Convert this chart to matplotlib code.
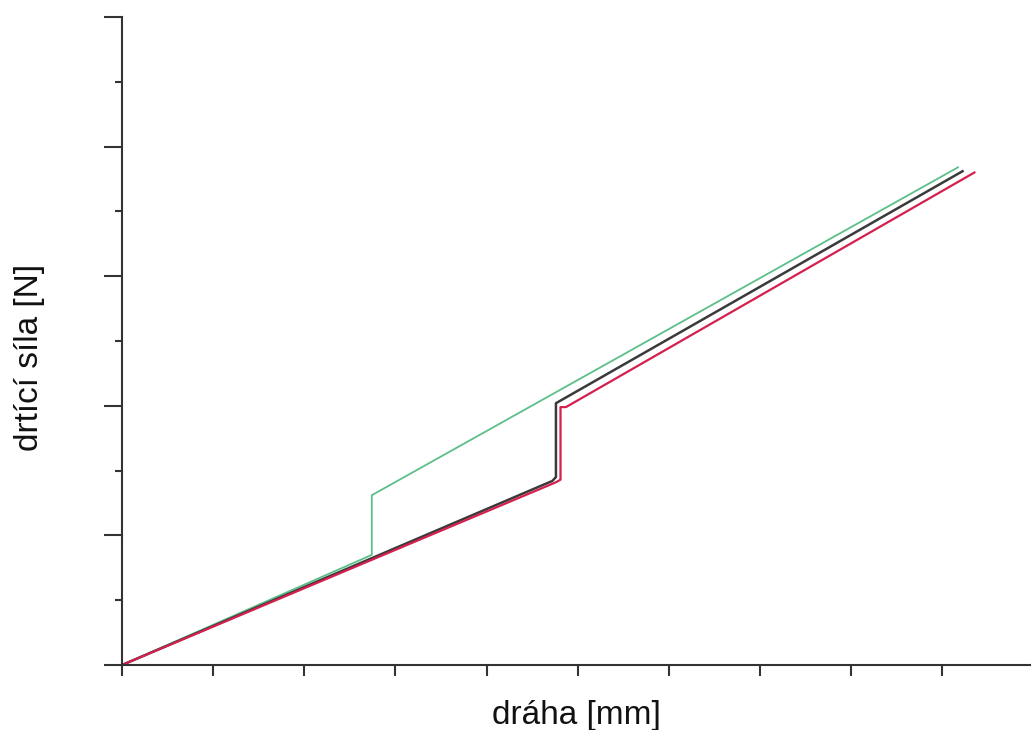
import numpy as np
import matplotlib.pyplot as plt

# path [mm] and crushing force [N] (arbitrary units)
green_x = [0.0, 2.74, 2.74, 9.17]
green_y = [0.0, 0.85, 1.31, 3.84]

black_x = [0.0, 4.72, 4.76, 4.76, 9.22]
black_y = [0.0, 1.42, 1.45, 2.02, 3.81]

red_x = [0.0, 4.76, 4.81, 4.81, 4.87, 9.35]
red_y = [0.0, 1.41, 1.43, 1.99, 1.99, 3.80]

plt.rcParams['font.family'] = ['Liberation Sans', 'DejaVu Sans']

fig = plt.figure(figsize=(10.33, 7.3), dpi=100)
ax = fig.add_axes([122 / 1033, 65 / 730, 908 / 1033, 648 / 730])

ax.plot(green_x, green_y, color='#5cbf8a', lw=1.3)
ax.plot(black_x, black_y, color='#3a3a3a', lw=1.8)
ax.plot(red_x, red_y, color='#d41f4f', lw=1.6)

ax.set_xlim(0, 9.96)
ax.set_ylim(0, 5)
ax.set_xticks(np.arange(0, 10, 1))
ax.set_yticks(np.arange(0, 6, 1))
ax.set_yticks(np.arange(0.5, 5, 1), minor=True)
ax.set_xticklabels([])
ax.set_yticklabels([])
ax.tick_params(axis='x', length=8, width=1.5, color='#333333')
ax.tick_params(axis='y', which='major', length=13, width=1.5, color='#333333')
ax.tick_params(axis='y', which='minor', length=5, width=1.5, color='#333333')

for s in ['top', 'right']:
    ax.spines[s].set_visible(False)
for s in ['left', 'bottom']:
    ax.spines[s].set_color('#333333')
    ax.spines[s].set_linewidth(1.5)

ax.set_xlabel('dráha [mm]', fontsize=24, labelpad=14, color='#111111')
ax.set_ylabel('drtící síla [N]', fontsize=24, color='#111111')
ax.yaxis.set_label_coords(-0.085, 0.475)

fig.savefig('out.png', dpi=100)
